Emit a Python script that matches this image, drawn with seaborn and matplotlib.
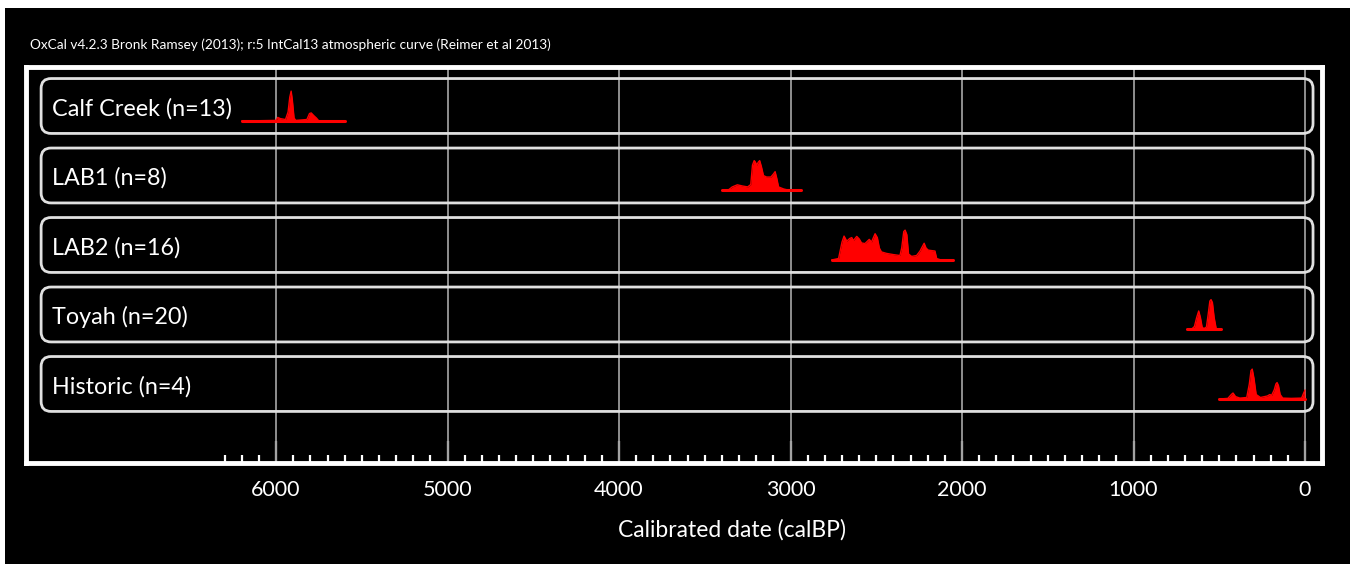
import numpy as np
import pandas as pd
import matplotlib
matplotlib.use("Agg")
import matplotlib.pyplot as plt
from matplotlib.patches import FancyBboxPatch, Rectangle
import seaborn as sns

# ---------------- data ----------------
groups = ["Calf Creek (n=13)", "LAB1 (n=8)", "LAB2 (n=16)", "Toyah (n=20)", "Historic (n=4)"]

calf_years = [6200, 6000, 5990, 5975, 5945, 5930, 5920, 5912, 5905, 5895, 5885, 5820, 5805, 5795, 5780, 5765, 5750, 5600]
calf_dens = [0, 0.02, 0.12, 0.08, 0.05, 0.3, 0.8, 1.0, 0.7, 0.1, 0.02, 0.05, 0.25, 0.27, 0.18, 0.1, 0, 0]

lab1_years = [3400, 3360, 3340, 3310, 3280, 3250, 3232, 3222, 3212, 3205, 3197, 3188, 3180, 3170, 3158, 3140, 3115, 3100, 3090, 3080, 3070, 3040, 3010, 2940]
lab1_dens = [0, 0.03, 0.12, 0.19, 0.15, 0.12, 0.2, 0.85, 1.0, 0.95, 0.85, 0.95, 1.0, 0.8, 0.5, 0.45, 0.45, 0.55, 0.63, 0.4, 0.12, 0.05, 0.01, 0]

lab2_years = [2760, 2720, 2700, 2688, 2672, 2655, 2643, 2634, 2614, 2599, 2586, 2566, 2541, 2528, 2507, 2494, 2482, 2470, 2440, 2400, 2362, 2352, 2340, 2332, 2322, 2312, 2294, 2265, 2245, 2236, 2221, 2210, 2197, 2158, 2148, 2128, 2050]
lab2_dens = [0, 0.05, 0.6, 0.8, 0.63, 0.72, 0.75, 0.65, 0.79, 0.7, 0.57, 0.55, 0.69, 0.6, 0.88, 0.75, 0.4, 0.27, 0.22, 0.18, 0.15, 0.4, 0.95, 1.0, 0.85, 0.2, 0.12, 0.15, 0.3, 0.4, 0.56, 0.4, 0.33, 0.3, 0.05, 0.01, 0]

toyah_years = [690, 660, 645, 632, 620, 610, 600, 590, 575, 565, 555, 548, 540, 530, 518, 505, 490]
toyah_dens = [0, 0.02, 0.1, 0.4, 0.62, 0.4, 0.08, 0.03, 0.08, 0.5, 0.95, 1.0, 0.9, 0.4, 0.03, 0, 0]

hist_years = [500, 450, 430, 420, 405, 380, 340, 325, 315, 308, 298, 285, 260, 220, 205, 195, 180, 170, 163, 155, 145, 130, 80, 20, 8, 0]
hist_dens = [0, 0.02, 0.15, 0.2, 0.08, 0.03, 0.05, 0.5, 0.95, 1.0, 0.7, 0.15, 0.05, 0.1, 0.15, 0.12, 0.3, 0.5, 0.55, 0.45, 0.15, 0.03, 0.02, 0.03, 0.2, 0.3]

series_years = [calf_years, lab1_years, lab2_years, toyah_years, hist_years]
series_dens = [calf_dens, lab1_dens, lab2_dens, toyah_dens, hist_dens]

major_ticks = [6000, 5000, 4000, 3000, 2000, 1000, 0]
minor_ticks = [v for v in range(100, 6400, 100) if v % 1000 != 0]

title = "OxCal v4.2.3 Bronk Ramsey (2013); r:5 IntCal13 atmospheric curve (Reimer et al 2013)"
xlabel = "Calibrated date (calBP)"

# ---------------- style ----------------
sns.set_theme(style="dark")
plt.rcParams['font.family'] = ['Lato', 'DejaVu Sans']

W, H = 1350, 564
fig = plt.figure(figsize=(W / 100, H / 100), dpi=100)
fig.patch.set_facecolor("white")
fig.add_artist(Rectangle((5 / W, 0), 1 - 5 / W, 1 - 8 / H, transform=fig.transFigure,
                         facecolor="black", edgecolor="none", zorder=-10))

ax = fig.add_axes([25.5 / W, (H - 463) / H, (1321.5 - 25.5) / W, (463 - 67) / H])
ax.set_facecolor("black")
ax.set_xlim(7461, -96)
ax.set_ylim(5.137, -0.561)

# grid
for v in major_ticks:
    ax.axvline(v, color="#9a9a9a", lw=1.3, zorder=1)

# rounded boxes
box_left, box_right = -46.6, 7370
box_h = 0.79
for i, g in enumerate(groups):
    p = FancyBboxPatch((box_left, i - box_h / 2), box_right - box_left, box_h,
                       boxstyle="round,pad=0,rounding_size=58",
                       mutation_aspect=0.00247, fill=False,
                       edgecolor="#e0e0e0", lw=2.0, zorder=2)
    ax.add_patch(p)
    ax.text(7306, i + 0.04, g, color="white", fontsize=16.8, va="center", ha="left", zorder=3)

# distributions
rows = []
for i, (yrs, dens) in enumerate(zip(series_years, series_dens)):
    for y, d in zip(yrs, dens):
        rows.append({"group": groups[i], "row": i, "year": y, "dens": d})
df = pd.DataFrame(rows)
base_off = 0.216
peak_h = 0.43
df["ytop"] = df["row"] + base_off - df["dens"] * peak_h
df["ybase"] = df["row"] + base_off

for i, g in enumerate(groups):
    sub = df[df["group"] == g]
    ax.fill_between(sub["year"], sub["ybase"], sub["ytop"], color="#ff0000", lw=0, zorder=4)
    sns.lineplot(data=sub, x="year", y="ytop", color="#ff0000", lw=1.0, ax=ax,
                 estimator=None, sort=False, zorder=5)
    sns.lineplot(data=sub, x="year", y="ybase", color="#ff0000", lw=2.2, ax=ax,
                 estimator=None, sort=False, zorder=5)

# axes styling
for s in ["left", "right", "top", "bottom"]:
    ax.spines[s].set_visible(True)
    ax.spines[s].set_color("white")
    ax.spines[s].set_linewidth(3.5)
ax.set_yticks([])
ax.set_xticks(major_ticks)
ax.set_xticklabels([str(v) for v in major_ticks])
ax.set_xticks(minor_ticks, minor=True)
ax.tick_params(axis="x", which="major", direction="in", length=16, width=1.6,
               color="white", labelcolor="white", labelsize=15.5, pad=12, bottom=True)
ax.tick_params(axis="x", which="minor", direction="in", length=6, width=1.6,
               color="white", bottom=True)
ax.set_ylabel("")
ax.set_xlabel(xlabel, color="white", fontsize=16.5)
ax.xaxis.set_label_coords((732 - 25.5) / 1296, -0.169)
ax.xaxis.label.set_verticalalignment("center")
ax.grid(False)

fig.text(30 / W, 1 - 45 / H, title, color="white", fontsize=9.8, ha="left", va="center")

fig.savefig("out.png", dpi=100, facecolor=fig.get_facecolor())
